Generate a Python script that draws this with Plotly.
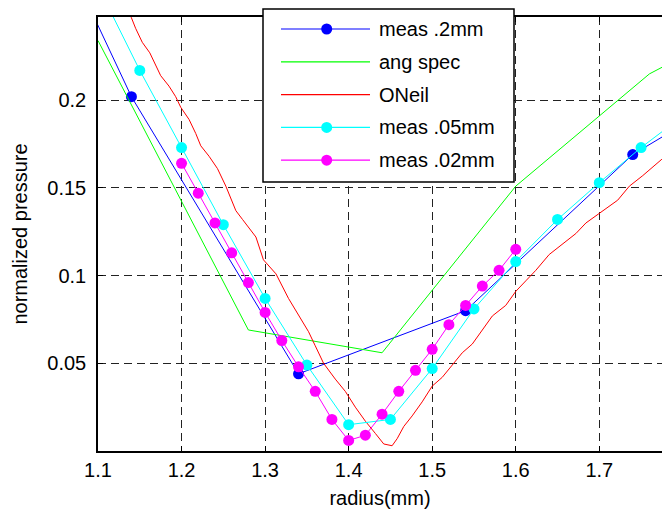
import plotly.graph_objects as go

# ---------------- data ----------------
x_ticks = [1.1, 1.2, 1.3, 1.4, 1.5, 1.6, 1.7]
y_ticks = [0.05, 0.1, 0.15, 0.2]

meas_2mm_r = [0.94, 1.14, 1.34, 1.54, 1.74, 1.94]
meas_2mm_p = [0.405, 0.202, 0.044, 0.080, 0.169, 0.226]

ang_spec_r = [1.10, 1.28, 1.44, 1.60, 1.76, 1.80]
ang_spec_p = [0.234, 0.069, 0.056, 0.151, 0.215, 0.225]

oneil_r = [1.130, 1.140, 1.145, 1.153, 1.162, 1.169, 1.175, 1.185, 1.193, 1.199,
           1.209, 1.217, 1.223, 1.233, 1.243, 1.253, 1.265, 1.273, 1.289, 1.298,
           1.313, 1.328, 1.342, 1.352, 1.360, 1.370, 1.384, 1.396, 1.408, 1.420,
           1.432, 1.442, 1.452, 1.458, 1.466, 1.476, 1.488, 1.500, 1.512, 1.524,
           1.536, 1.548, 1.560, 1.572, 1.588, 1.600, 1.612, 1.624, 1.640, 1.656,
           1.672, 1.684, 1.690, 1.722, 1.736, 1.752, 1.774, 1.800]
oneil_p = [0.256, 0.247, 0.241, 0.233, 0.227, 0.220, 0.214, 0.208, 0.202, 0.196,
           0.189, 0.181, 0.174, 0.168, 0.161, 0.151, 0.137, 0.132, 0.122, 0.109,
           0.101, 0.087, 0.076, 0.068, 0.060, 0.050, 0.041, 0.034, 0.025, 0.017,
           0.010, 0.004, 0.003, 0.007, 0.014, 0.020, 0.028, 0.037, 0.042, 0.049,
           0.056, 0.061, 0.069, 0.077, 0.083, 0.091, 0.097, 0.103, 0.112, 0.118,
           0.124, 0.130, 0.132, 0.143, 0.151, 0.157, 0.166, 0.177]

meas_05mm_r = [1.10, 1.15, 1.20, 1.25, 1.30, 1.35, 1.40, 1.45, 1.50, 1.55,
               1.60, 1.65, 1.70, 1.75, 1.80]
meas_05mm_p = [0.265, 0.217, 0.173, 0.129, 0.087, 0.049, 0.015, 0.018, 0.047, 0.081,
               0.108, 0.132, 0.153, 0.173, 0.191]

meas_02mm_r = [1.20, 1.22, 1.24, 1.26, 1.28, 1.30, 1.32, 1.34, 1.36, 1.38, 1.40,
               1.42, 1.44, 1.46, 1.48, 1.50, 1.52, 1.54, 1.56, 1.58, 1.60]
meas_02mm_p = [0.164, 0.147, 0.130, 0.113, 0.096, 0.079, 0.063, 0.048, 0.034, 0.018, 0.006,
               0.009, 0.021, 0.034, 0.046, 0.058, 0.072, 0.083, 0.094, 0.103, 0.115]

series_names = ["meas .2mm", "ang spec", "ONeil", "meas .05mm", "meas .02mm"]
series_colors = ["#0000ff", "#00ff00", "#ff0000", "#00ffff", "#ff00ff"]
series_markers = [True, False, False, True, True]
series_x = [meas_2mm_r, ang_spec_r, oneil_r, meas_05mm_r, meas_02mm_r]
series_y = [meas_2mm_p, ang_spec_p, oneil_p, meas_05mm_p, meas_02mm_p]

# ---------------- figure ----------------
W, H = 662, 512
ML, MR, MT, MB = 98, 0, 17, 61
FONT = "Liberation Sans, Arial, Helvetica, sans-serif"
FS = 20
PX_PER_X = 835.5   # pixels per unit radius
PX_PER_Y = 1754.0  # pixels per unit pressure

fig = go.Figure()
for name, col, mk, xs, ys in zip(series_names, series_colors, series_markers, series_x, series_y):
    fig.add_trace(go.Scatter(
        x=xs, y=ys, name=name,
        mode="lines+markers" if mk else "lines",
        line=dict(color=col, width=1),
        marker=dict(color=col, size=11, line=dict(width=0)),
        showlegend=False,
    ))

axis_common = dict(
    showline=True, linecolor="black", linewidth=1.5,
    ticks="inside", ticklen=5, tickcolor="black", tickwidth=1,
    showgrid=True, gridcolor="#222222", gridwidth=1, griddash="8px,5px",
    zeroline=False,
    tickfont=dict(family=FONT, size=FS, color="black"),
)

fig.update_xaxes(
    range=[1.1, 1.1 + (W - ML - MR) / PX_PER_X], tickvals=x_ticks,
    ticktext=[f"{v:g}" for v in x_ticks],
    mirror="ticks",
    title=dict(text="radius(mm)", font=dict(family=FONT, size=FS, color="black"), standoff=11),
    **axis_common,
)
fig.update_yaxes(
    range=[0, (H - MT - MB) / PX_PER_Y], tickvals=y_ticks,
    ticktext=[f"{v:g}" for v in y_ticks],
    mirror=False, ticklabelstandoff=6,
    title=dict(text="normalized pressure", font=dict(family=FONT, size=FS, color="black"), standoff=14),
    **axis_common,
)

# ---------------- manual legend (MATLAB style) ----------------
pw, ph = W - ML - MR, H - MT - MB
def px2x(px):
    return (px - ML) / pw
def py2y(py):
    return (H - MB - py) / ph

shapes = [dict(type="rect", xref="paper", yref="paper",
               x0=px2x(263), x1=px2x(514), y0=py2y(182), y1=py2y(9),
               fillcolor="white", line=dict(color="black", width=1.5), layer="above")]
annotations = []
for i, (name, col, mk) in enumerate(zip(series_names, series_colors, series_markers)):
    yy = py2y(29 + i * 32.8)
    shapes.append(dict(type="line", xref="paper", yref="paper",
                       x0=px2x(281), x1=px2x(370), y0=yy, y1=yy,
                       line=dict(color=col, width=1.2), layer="above"))
    if mk:
        shapes.append(dict(type="circle", xref="paper", yref="paper",
                           xsizemode="pixel", ysizemode="pixel",
                           xanchor=px2x(326.7), yanchor=yy,
                           x0=-5.5, x1=5.5, y0=-5.5, y1=5.5,
                           fillcolor=col, line=dict(width=0), layer="above"))
    annotations.append(dict(xref="paper", yref="paper", x=px2x(377), y=yy,
                            xanchor="left", yanchor="middle", showarrow=False,
                            text=name, font=dict(family=FONT, size=FS, color="black")))

fig.update_layout(
    width=W, height=H,
    margin=dict(l=ML, r=MR, t=MT, b=MB, autoexpand=False),
    paper_bgcolor="white", plot_bgcolor="white",
    showlegend=False,
    shapes=shapes, annotations=annotations,
    font=dict(family=FONT, size=FS, color="black"),
)

fig.write_html("out.html")
